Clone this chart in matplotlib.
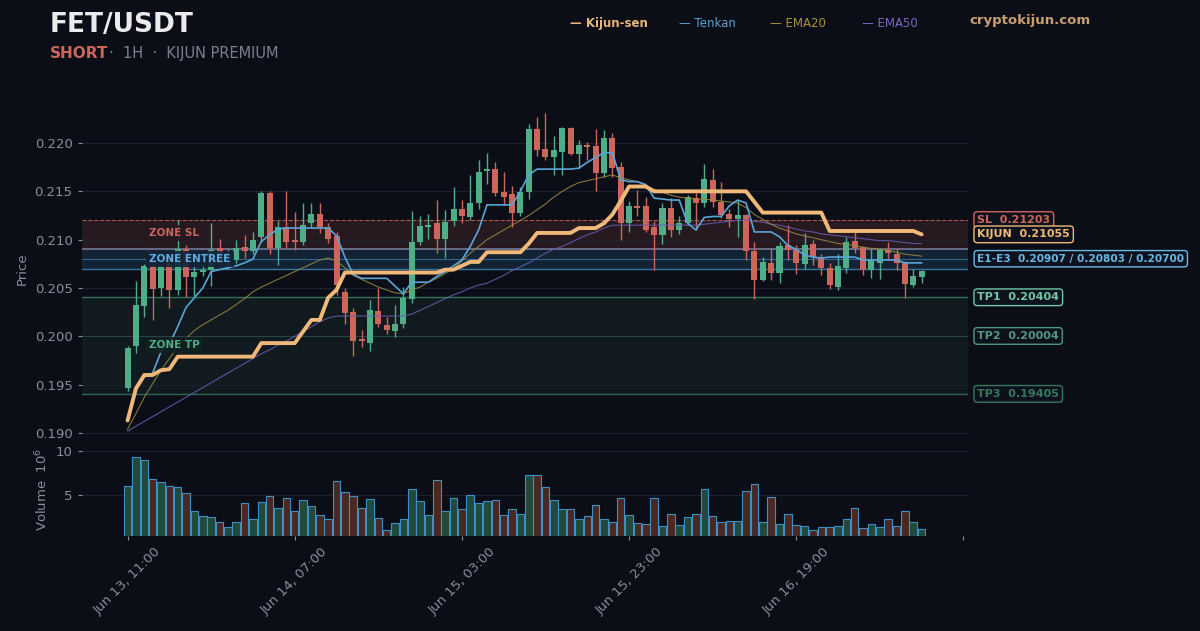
import numpy as np
import matplotlib
matplotlib.use("Agg")
import matplotlib.pyplot as plt
import matplotlib.transforms as mtransforms

# ---- data (1h candles) ----
opens = [0.1947, 0.1990, 0.2031, 0.2073, 0.2050, 0.2076, 0.2048, 0.2090, 0.2061, 0.2067,
         0.2069, 0.2091, 0.2077, 0.2079, 0.2092, 0.2088, 0.2103, 0.2148, 0.2091, 0.2113,
         0.2100, 0.2098, 0.2117, 0.2127, 0.2113, 0.2104, 0.2046, 0.2025, 0.1997, 0.1993,
         0.2026, 0.2012, 0.2006, 0.2013, 0.2039, 0.2098, 0.2113, 0.2117, 0.2101, 0.2119,
         0.2132, 0.2123, 0.2138, 0.2171, 0.2173, 0.2149, 0.2147, 0.2128, 0.2149, 0.2215,
         0.2194, 0.2186, 0.2191, 0.2216, 0.2189, 0.2198, 0.2197, 0.2169, 0.2205, 0.2175,
         0.2117, 0.2135, 0.2135, 0.2113, 0.2105, 0.2133, 0.2110, 0.2117, 0.2143, 0.2138,
         0.2162, 0.2139, 0.2127, 0.2121, 0.2126, 0.2088, 0.2058, 0.2076, 0.2066, 0.2094,
         0.2089, 0.2075, 0.2096, 0.2082, 0.2071, 0.2051, 0.2071, 0.2099, 0.2092, 0.2069,
         0.2076, 0.2089, 0.2085, 0.2076, 0.2053, 0.2061]
highs = [0.1990, 0.2057, 0.2075, 0.2076, 0.2076, 0.2079, 0.2120, 0.2094, 0.2073, 0.2076,
         0.2117, 0.2101, 0.2090, 0.2100, 0.2105, 0.2108, 0.2150, 0.2150, 0.2119, 0.2150,
         0.2129, 0.2138, 0.2138, 0.2138, 0.2117, 0.2108, 0.2050, 0.2029, 0.2007, 0.2038,
         0.2050, 0.2020, 0.2032, 0.2051, 0.2130, 0.2124, 0.2127, 0.2141, 0.2131, 0.2155,
         0.2141, 0.2167, 0.2182, 0.2190, 0.2180, 0.2170, 0.2156, 0.2155, 0.2220, 0.2227,
         0.2231, 0.2207, 0.2217, 0.2217, 0.2203, 0.2201, 0.2214, 0.2213, 0.2210, 0.2180,
         0.2140, 0.2151, 0.2144, 0.2119, 0.2138, 0.2143, 0.2124, 0.2146, 0.2148, 0.2178,
         0.2173, 0.2160, 0.2132, 0.2141, 0.2127, 0.2098, 0.2082, 0.2091, 0.2098, 0.2115,
         0.2094, 0.2107, 0.2100, 0.2085, 0.2076, 0.2085, 0.2103, 0.2108, 0.2093, 0.2090,
         0.2091, 0.2098, 0.2091, 0.2078, 0.2070, 0.2069]
lows = [0.1943, 0.1983, 0.2020, 0.2017, 0.2042, 0.2029, 0.2043, 0.2041, 0.2042, 0.2062,
        0.2052, 0.2074, 0.2070, 0.2076, 0.2081, 0.2085, 0.2098, 0.2085, 0.2074, 0.2091,
        0.2089, 0.2094, 0.2112, 0.2107, 0.2097, 0.2043, 0.2013, 0.1980, 0.1989, 0.1985,
        0.2010, 0.2002, 0.1999, 0.2009, 0.2034, 0.2094, 0.2101, 0.2086, 0.2081, 0.2114,
        0.2117, 0.2120, 0.2132, 0.2158, 0.2145, 0.2136, 0.2113, 0.2124, 0.2142, 0.2187,
        0.2182, 0.2167, 0.2167, 0.2188, 0.2174, 0.2182, 0.2150, 0.2165, 0.2165, 0.2100,
        0.2108, 0.2124, 0.2108, 0.2069, 0.2096, 0.2103, 0.2106, 0.2115, 0.2110, 0.2134,
        0.2134, 0.2122, 0.2113, 0.2103, 0.2079, 0.2039, 0.2057, 0.2058, 0.2055, 0.2079,
        0.2065, 0.2070, 0.2074, 0.2063, 0.2049, 0.2048, 0.2066, 0.2086, 0.2063, 0.2060,
        0.2059, 0.2079, 0.2069, 0.2040, 0.2051, 0.2055]
closes = [0.1988, 0.2032, 0.2073, 0.2049, 0.2073, 0.2048, 0.2090, 0.2061, 0.2067, 0.2069,
          0.2089, 0.2076, 0.2086, 0.2091, 0.2088, 0.2100, 0.2148, 0.2091, 0.2113, 0.2098,
          0.2098, 0.2115, 0.2127, 0.2113, 0.2101, 0.2053, 0.2024, 0.1995, 0.1995, 0.2027,
          0.2013, 0.2007, 0.2013, 0.2040, 0.2098, 0.2114, 0.2115, 0.2101, 0.2118, 0.2132,
          0.2124, 0.2138, 0.2170, 0.2173, 0.2148, 0.2144, 0.2128, 0.2149, 0.2215, 0.2193,
          0.2186, 0.2193, 0.2216, 0.2189, 0.2198, 0.2196, 0.2169, 0.2205, 0.2174, 0.2117,
          0.2135, 0.2133, 0.2110, 0.2105, 0.2133, 0.2110, 0.2117, 0.2144, 0.2138, 0.2163,
          0.2139, 0.2126, 0.2121, 0.2126, 0.2088, 0.2058, 0.2077, 0.2066, 0.2093, 0.2089,
          0.2076, 0.2095, 0.2082, 0.2071, 0.2053, 0.2073, 0.2098, 0.2091, 0.2069, 0.2079,
          0.2089, 0.2086, 0.2076, 0.2054, 0.2062, 0.2068]
volume = [6.0, 9.3, 9.0, 6.8, 6.5, 6.0, 5.9, 5.2, 3.2, 2.6,
          2.5, 1.9, 1.35, 1.9, 4.1, 2.3, 4.2, 4.9, 3.5, 4.7,
          3.2, 4.4, 3.8, 2.7, 2.3, 6.6, 5.3, 4.9, 3.5, 4.6,
          2.4, 1.1, 1.8, 2.3, 5.7, 4.3, 2.8, 6.7, 3.2, 4.7,
          3.4, 5.0, 4.1, 4.3, 4.4, 2.7, 3.4, 2.9, 7.3, 7.3,
          5.9, 4.4, 3.4, 3.4, 2.3, 2.6, 3.9, 2.3, 2.0, 4.7,
          2.7, 1.8, 1.7, 4.7, 1.5, 2.9, 1.6, 2.5, 2.9, 5.7,
          2.6, 2.0, 2.1, 2.1, 5.5, 6.3, 2.0, 4.8, 1.7, 2.9,
          1.6, 1.5, 1.1, 1.35, 1.35, 1.5, 2.3, 3.5, 1.3, 1.7,
          1.35, 2.3, 1.5, 3.2, 2.0, 1.2]

kijun = [0.1913, 0.1946, 0.1960, 0.1960, 0.1965, 0.1966, 0.1979, 0.1979, 0.1979, 0.1979,
         0.1979, 0.1979, 0.1979, 0.1979, 0.1979, 0.1979, 0.1993, 0.1993, 0.1993, 0.1993,
         0.1993, 0.2005, 0.2017, 0.2017, 0.2040, 0.2048, 0.2066, 0.2066, 0.2066, 0.2066,
         0.2066, 0.2066, 0.2066, 0.2066, 0.2066, 0.2066, 0.2066, 0.2066, 0.2069, 0.2069,
         0.2073, 0.2077, 0.2077, 0.2087, 0.2087, 0.2087, 0.2087, 0.2087, 0.2096, 0.2107,
         0.2107, 0.2107, 0.2107, 0.2107, 0.2112, 0.2112, 0.2112, 0.2117, 0.2126, 0.2140,
         0.2155, 0.2155, 0.2155, 0.2150, 0.2150, 0.2150, 0.2150, 0.2150, 0.2150, 0.2150,
         0.2150, 0.2150, 0.2150, 0.2150, 0.2150, 0.2139, 0.2128, 0.2128, 0.2128, 0.2128,
         0.2128, 0.2128, 0.2128, 0.2128, 0.2109, 0.2109, 0.2109, 0.2109, 0.2109, 0.2109,
         0.2109, 0.2109, 0.2109, 0.2109, 0.2109, 0.21055]
tenkan = [0.1913, 0.1946, 0.1958, 0.1962, 0.1984, 0.1992, 0.2010, 0.2030, 0.2040, 0.2050,
          0.2067, 0.2069, 0.2071, 0.2073, 0.2076, 0.2080, 0.2098, 0.2105, 0.2111, 0.2112,
          0.2112, 0.2112, 0.2112, 0.2112, 0.2112, 0.2104, 0.2082, 0.2064, 0.2060, 0.2060,
          0.2060, 0.2060, 0.2052, 0.2044, 0.2056, 0.2056, 0.2056, 0.2062, 0.2067, 0.2073,
          0.2079, 0.2093, 0.2110, 0.2136, 0.2136, 0.2136, 0.2136, 0.2150, 0.2167, 0.2173,
          0.2173, 0.2173, 0.2173, 0.2173, 0.2174, 0.2180, 0.2185, 0.2190, 0.2190, 0.2162,
          0.2160, 0.2160, 0.2157, 0.2143, 0.2142, 0.2141, 0.2141, 0.2117, 0.2110, 0.2123,
          0.2124, 0.2124, 0.2135, 0.2141, 0.2138, 0.2108, 0.2108, 0.2108, 0.2103, 0.2094,
          0.2090, 0.2084, 0.2082, 0.2081, 0.2082, 0.2082, 0.2082, 0.2082, 0.2079, 0.2079,
          0.2079, 0.2079, 0.2079, 0.2076, 0.2076, 0.2076]
ema20 = [0.1904, 0.1920, 0.1937, 0.1951, 0.1965, 0.1977, 0.1989, 0.1998, 0.2006, 0.2012,
         0.2017, 0.2022, 0.2027, 0.2033, 0.2039, 0.2046, 0.2051, 0.2055, 0.2059, 0.2063,
         0.2067, 0.2071, 0.2075, 0.2079, 0.2081, 0.2078, 0.2071, 0.2063, 0.2059, 0.2055,
         0.2051, 0.2048, 0.2045, 0.2044, 0.2048, 0.2051, 0.2056, 0.2060, 0.2065, 0.2070,
         0.2078, 0.2086, 0.2093, 0.2100, 0.2105, 0.2110, 0.2115, 0.2120, 0.2125, 0.2131,
         0.2137, 0.2144, 0.2150, 0.2155, 0.2159, 0.2161, 0.2163, 0.2165, 0.2167, 0.2164,
         0.2162, 0.2160, 0.2156, 0.2152, 0.2149, 0.2146, 0.2144, 0.2143, 0.2142, 0.2142,
         0.2141, 0.2140, 0.2139, 0.2138, 0.2133, 0.2126, 0.2121, 0.2116, 0.2112, 0.2109,
         0.2106, 0.2104, 0.2102, 0.2100, 0.2098, 0.2096, 0.2095, 0.2094, 0.2092, 0.2091,
         0.2090, 0.2089, 0.2087, 0.2085, 0.2084, 0.2083]
ema50 = [0.1902, 0.1907, 0.1912, 0.1917, 0.1922, 0.1927, 0.1932, 0.1937, 0.1942, 0.1947,
         0.1952, 0.1957, 0.1962, 0.1967, 0.1972, 0.1977, 0.1982, 0.1986, 0.1991, 0.1995,
         0.2000, 0.2005, 0.2010, 0.2015, 0.2019, 0.2021, 0.2021, 0.2021, 0.2021, 0.2021,
         0.2021, 0.2021, 0.2021, 0.2021, 0.2023, 0.2027, 0.2031, 0.2035, 0.2039, 0.2043,
         0.2046, 0.2050, 0.2053, 0.2055, 0.2059, 0.2063, 0.2068, 0.2072, 0.2076, 0.2081,
         0.2086, 0.2090, 0.2093, 0.2097, 0.2101, 0.2105, 0.2108, 0.2112, 0.2115, 0.2115,
         0.2115, 0.2115, 0.2115, 0.2115, 0.2115, 0.2115, 0.2115, 0.2115, 0.2115, 0.2116,
         0.2117, 0.2118, 0.2119, 0.2120, 0.2120, 0.2119, 0.2118, 0.2116, 0.2115, 0.2113,
         0.2111, 0.2109, 0.2108, 0.2106, 0.2105, 0.2104, 0.2103, 0.2102, 0.2101, 0.2100,
         0.2099, 0.2099, 0.2098, 0.2097, 0.2096, 0.2096]

tick_pos = [0, 20, 40, 60, 80, 100]
tick_labels = ["Jun 13, 11:00", "Jun 14, 07:00", "Jun 15, 03:00",
               "Jun 15, 23:00", "Jun 16, 19:00", ""]

sl = 0.21203
entries = [0.20907, 0.20803, 0.20700]
tps = [0.20404, 0.20004, 0.19405]
kijun_last = 0.21055

# ---- colours ----
BG = "#0b0e17"
GRID = "#1b2131"
TXT = "#8a8f9c"
GREEN = "#4fae88"
RED = "#cc665a"
BLUE = "#4a9fd4"
PEACH = "#f0b97a"

x = np.arange(len(opens))
o = np.array(opens); c = np.array(closes)
h = np.array(highs); l = np.array(lows)
up = c >= o

fig = plt.figure(figsize=(12, 6.31), dpi=100, facecolor=BG)
ax = fig.add_axes([0.068, 0.298, 0.739, 0.5515], facecolor=BG)
axv = fig.add_axes([0.068, 0.1498, 0.739, 0.1481], facecolor=BG, sharex=ax)

# zones
ax.axhspan(entries[0], sl, color=RED, alpha=0.14, lw=0, zorder=0)
ax.axhspan(entries[2], entries[0], color=BLUE, alpha=0.15, lw=0, zorder=0)
ax.axhspan(tps[2], tps[0], color=GREEN, alpha=0.08, lw=0, zorder=0)
ax.axhline(sl, color=RED, lw=0.8, ls="--", alpha=0.8, zorder=1)
ax.axhline(entries[0], color="#8c8fb0", lw=1.2, alpha=0.8, zorder=1)
ax.axhline(entries[1], color=BLUE, lw=0.8, alpha=0.55, zorder=1)
ax.axhline(entries[2], color=BLUE, lw=1.0, alpha=0.7, zorder=1)
ax.axhline(tps[0], color=GREEN, lw=1.0, alpha=0.6, zorder=1)
ax.axhline(tps[1], color=GREEN, lw=0.6, alpha=0.3, zorder=1)
ax.axhline(tps[2], color=GREEN, lw=1.0, alpha=0.55, zorder=1)

# candles
col = np.where(up, GREEN, RED)
ax.vlines(x, l, h, colors=col, lw=1.0, zorder=3)
body = np.maximum(np.abs(c - o), 0.00004)
ax.bar(x, body, bottom=np.minimum(o, c), width=0.72, color=col, lw=0, zorder=3)

# indicators
ax.plot(x, ema50, color="#6a5cb0", lw=0.8, alpha=0.85, zorder=4)
ax.plot(x, ema20, color="#9a8840", lw=0.8, alpha=0.85, zorder=4)
ax.plot(x, tenkan, color="#5aa5d8", lw=1.2, zorder=5)
ax.plot(x, kijun, color=PEACH, lw=2.8, solid_capstyle="round", zorder=6)

# zone labels
ax.text(2.6, (sl + entries[0]) / 2 + 0.00015, "ZONE SL", color=RED, fontsize=7.5,
        fontweight="bold", va="center", zorder=7,
        bbox=dict(boxstyle="square,pad=0.3", fc="#261820", ec="none", alpha=0.9))
ax.text(2.6, entries[1], "ZONE ENTREE", color="#5aaee0", fontsize=7.5,
        fontweight="bold", va="center", zorder=7,
        bbox=dict(boxstyle="square,pad=0.3", fc="#142238", ec="none", alpha=0.9))
ax.text(2.6, 0.1991, "ZONE TP", color=GREEN, fontsize=7.5,
        fontweight="bold", va="center", zorder=7,
        bbox=dict(boxstyle="square,pad=0.3", fc="#10201f", ec="none", alpha=0.9))

# right-side price tags
trans = mtransforms.blended_transform_factory(ax.transAxes, ax.transData)
tags = [
    (sl, "SL  %.5f" % sl, RED, 1.0, 8),
    (kijun_last, "KIJUN  %.5f" % kijun_last, PEACH, 1.0, 8),
    (entries[1], "E1-E3  %.5f / %.5f / %.5f" % tuple(entries), "#6ab8e8", 1.0, 7.6),
    (tps[0], "TP1  %.5f" % tps[0], "#72c8a4", 1.0, 8),
    (tps[1], "TP2  %.5f" % tps[1], "#5fae90", 0.85, 8),
    (tps[2], "TP3  %.5f" % tps[2], "#3f8a6c", 0.85, 8),
]
for yv, s, cc, a, fs in tags:
    ax.text(1.010, yv, s, transform=trans, color=cc, alpha=a, fontsize=fs,
            fontweight="bold", va="center", ha="left", clip_on=False,
            bbox=dict(boxstyle="round,pad=0.3", fc="#0e121c", ec=cc, lw=1.0, alpha=a))

ax.set_ylim(0.18897, 0.22497)
ax.set_yticks([0.190, 0.195, 0.200, 0.205, 0.210, 0.215, 0.220])
ax.set_yticklabels(["%.3f" % v for v in [0.190, 0.195, 0.200, 0.205, 0.210, 0.215, 0.220]])
ax.set_ylabel("Price", color=TXT, fontsize=9.5)
ax.grid(axis="y", color=GRID, lw=0.8)
ax.tick_params(axis="x", which="both", bottom=False, labelbottom=False)

# volume
vcol_face = np.where(up, "#21493c", "#4a2821")
axv.bar(x, volume, width=0.9, color=vcol_face, edgecolor="#3d8fc4", lw=0.8, zorder=3)
axv.set_ylim(0.32, 10.87)
axv.set_yticks([5, 10])
axv.set_ylabel("Volume  $10^6$", color=TXT, fontsize=9.5)
axv.grid(axis="y", color=GRID, lw=0.8)
axv.set_xlim(-5.5, 100.6)
axv.set_xticks(tick_pos)
axv.set_xticklabels(tick_labels, rotation=45)

for a in (ax, axv):
    for sp in a.spines.values():
        sp.set_visible(False)
    a.tick_params(colors=TXT, labelsize=9.5, length=3, width=0.8)
    a.set_axisbelow(True)

# header
fig.text(0.0417, 0.960, "FET/USDT", color="#ececee", fontsize=19, fontweight="bold", va="center")
fig.text(0.0417, 0.916, "SHORT", color=RED, fontsize=11, fontweight="bold", va="center")
fig.text(0.0905, 0.916, "·  1H  ·  KIJUN PREMIUM", color="#7a8090", fontsize=10.5, va="center")

fig.text(0.475, 0.962, "— Kijun-sen", color="#e8b67c", fontsize=8.5, fontweight="bold", va="center")
fig.text(0.566, 0.962, "— Tenkan", color="#5aa0d0", fontsize=8.5, va="center")
fig.text(0.642, 0.962, "— EMA20", color="#a8903c", fontsize=8.5, va="center")
fig.text(0.718, 0.962, "— EMA50", color="#7a68c0", fontsize=8.5, va="center")
fig.text(0.808, 0.968, "cryptokijun.com", color="#c8a070", fontsize=9.5, fontweight="bold", va="center")

fig.savefig("out.png", dpi=100, facecolor=BG)
